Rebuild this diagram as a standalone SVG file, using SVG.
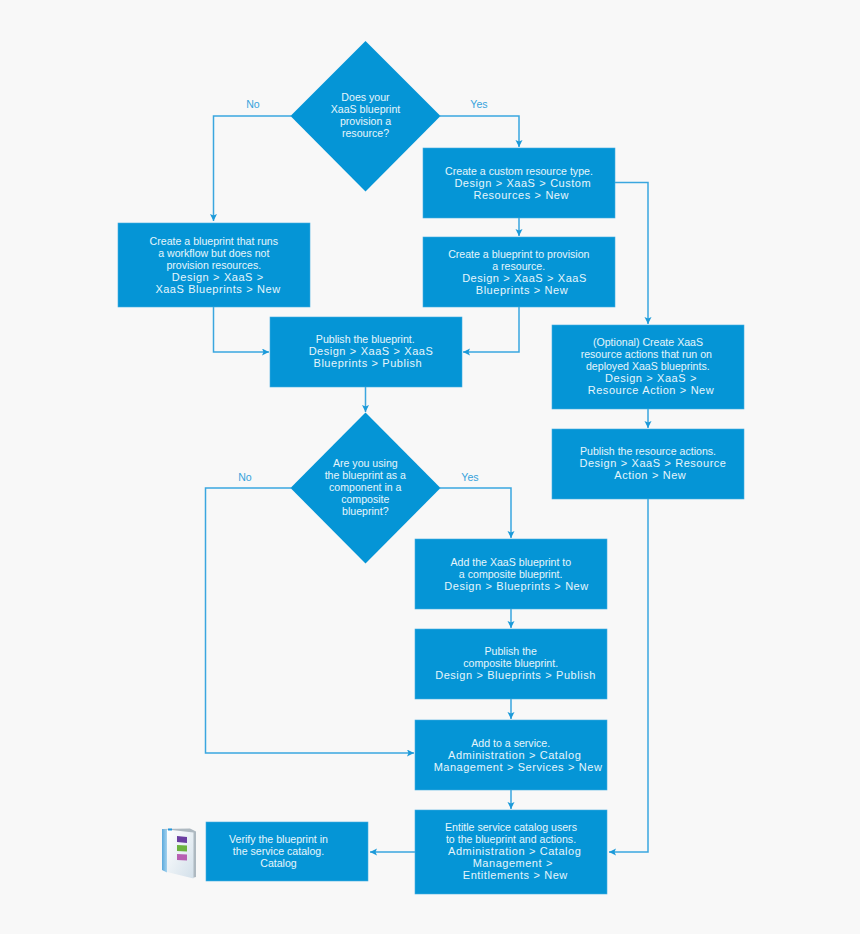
<svg xmlns="http://www.w3.org/2000/svg" width="860" height="934" viewBox="0 0 860 934">
<style>
.n{fill:#0595d6}
.b{fill:#0595d6;stroke:#45ade2;stroke-width:.6}
.t{font-family:"Liberation Sans",Arial,sans-serif;font-size:10.6px;fill:#e6f5fc;text-anchor:middle}
.p{letter-spacing:.52px;word-spacing:.3px;font-size:11px}
.l{font-family:"Liberation Sans",Arial,sans-serif;font-size:10.6px;fill:#36a3dc;text-anchor:middle}
.c{fill:none;stroke:#3aa6df;stroke-width:1.5;marker-end:url(#a)}
</style>
<defs>
<marker id="a" markerUnits="userSpaceOnUse" markerWidth="8" markerHeight="8" refX="7" refY="3.5" orient="auto"><path d="M0 0L7 3.5L0 7L1.500 3.500Z" fill="#1c9ad9"/></marker>
<linearGradient id="page" x1="0" y1="0" x2="1" y2="1"><stop offset="0" stop-color="#ffffff"/><stop offset="1" stop-color="#d3e0ea"/></linearGradient>
<linearGradient id="spine" x1="0" y1="0" x2="1" y2="0"><stop offset="0" stop-color="#5aa9dc"/><stop offset="1" stop-color="#a5d3ef"/></linearGradient>
</defs>
<rect width="860" height="934" fill="#f8f8f8"/>
<g id="connectors">
<path class="c" d="M291 116H213.500V221"/>
<path class="c" d="M440 116H519V147"/>
<path class="c" d="M519 218V236"/>
<path class="c" d="M615 182.500H648V324"/>
<path class="c" d="M213.500 307V352H269"/>
<path class="c" d="M519 307V352H463"/>
<path class="c" d="M365.500 387V412"/>
<path class="c" d="M648 409V428"/>
<path class="c" d="M291 488H205.500V753H414"/>
<path class="c" d="M440 488H511V538"/>
<path class="c" d="M511 609V628"/>
<path class="c" d="M511 699V719"/>
<path class="c" d="M511 790V809"/>
<path class="c" d="M648 499V852H609"/>
<path class="c" d="M415 852H370"/>
<text class="l" x="253" y="108">No</text>
<text class="l" x="479" y="108">Yes</text>
<text class="l" x="245" y="481">No</text>
<text class="l" x="470" y="481">Yes</text>
</g>
<g id="d1"><path class="n" d="M365.500 41L440.500 116L365.500 191.500L290.500 116Z"/>
<text class="t" x="365.500" y="101">Does your</text><text class="t" x="365.500" y="113">XaaS blueprint</text><text class="t" x="365.500" y="125">provision a</text><text class="t" x="365.500" y="137">resource?</text></g>
<g id="custom"><rect class="b" x="423" y="148" width="192" height="70"/>
<text class="t" x="519" y="175">Create a custom resource type.</text><text class="t p" x="522.800" y="187">Design &gt; XaaS &gt; Custom</text><text class="t p" x="521.200" y="199">Resources &gt; New</text></g>
<g id="noprov"><rect class="b" x="118" y="223" width="192" height="84"/>
<text class="t" x="213.800" y="245">Create a blueprint that runs</text><text class="t" x="213.800" y="257">a workflow but does not</text><text class="t" x="213.800" y="269">provision resources.</text><text class="t p" x="217.800" y="281">Design &gt; XaaS &gt;</text><text class="t p" x="218" y="293">XaaS Blueprints &gt; New</text></g>
<g id="prov"><rect class="b" x="423" y="237" width="192" height="70"/>
<text class="t" x="518.800" y="258">Create a blueprint to provision</text><text class="t" x="518.700" y="270">a resource.</text><text class="t p" x="524.500" y="282">Design &gt; XaaS &gt; XaaS</text><text class="t p" x="522" y="294">Blueprints &gt; New</text></g>
<g id="publish"><rect class="b" x="270" y="317" width="192" height="70"/>
<text class="t" x="365.300" y="343">Publish the blueprint.</text><text class="t p" x="371" y="355">Design &gt; XaaS &gt; XaaS</text><text class="t p" x="367.800" y="367">Blueprints &gt; Publish</text></g>
<g id="optional"><rect class="b" x="552" y="325" width="192" height="84"/>
<text class="t" x="648" y="346">(Optional) Create XaaS</text><text class="t" x="646.300" y="358">resource actions that run on</text><text class="t" x="647.800" y="370">deployed XaaS blueprints.</text><text class="t p" x="651" y="382">Design &gt; XaaS &gt;</text><text class="t p" x="651" y="394">Resource Action &gt; New</text></g>
<g id="pubres"><rect class="b" x="552" y="429" width="192" height="70"/>
<text class="t" x="648" y="455">Publish the resource actions.</text><text class="t p" x="653" y="467">Design &gt; XaaS &gt; Resource</text><text class="t p" x="650.300" y="479">Action &gt; New</text></g>
<g id="d2"><path class="n" d="M365.500 412.500L440.500 488L365.500 563.500L290.500 488Z"/>
<text class="t" x="365.300" y="467">Are you using</text><text class="t" x="365.300" y="479">the blueprint as a</text><text class="t" x="365.300" y="491">component in a</text><text class="t" x="365.300" y="503">composite</text><text class="t" x="365.300" y="515">blueprint?</text></g>
<g id="addc"><rect class="b" x="415" y="539" width="192" height="70"/>
<text class="t" x="510.800" y="566">Add the XaaS blueprint to</text><text class="t" x="510.700" y="578">a composite blueprint.</text><text class="t p" x="516.500" y="590">Design &gt; Blueprints &gt; New</text></g>
<g id="pubc"><rect class="b" x="415" y="629" width="192" height="70"/>
<text class="t" x="510.700" y="655">Publish the</text><text class="t" x="510.700" y="667">composite blueprint.</text><text class="t p" x="515.500" y="679">Design &gt; Blueprints &gt; Publish</text></g>
<g id="svc"><rect class="b" x="415" y="720" width="192" height="70"/>
<text class="t" x="510.700" y="747">Add to a service.</text><text class="t p" x="514.700" y="759">Administration &gt; Catalog</text><text class="t p" x="518" y="771">Management &gt; Services &gt; New</text></g>
<g id="ent"><rect class="b" x="415" y="810" width="192" height="84"/>
<text class="t" x="511" y="831">Entitle service catalog users</text><text class="t" x="511" y="843">to the blueprint and actions.</text><text class="t p" x="514.700" y="855">Administration &gt; Catalog</text><text class="t p" x="512.800" y="867">Management &gt;</text><text class="t p" x="515.300" y="879">Entitlements &gt; New</text></g>
<g id="verify"><rect class="b" x="206" y="822" width="162" height="59"/>
<text class="t" x="278.500" y="843">Verify the blueprint in</text><text class="t" x="278.500" y="855">the service catalog.</text><text class="t" x="278.500" y="867">Catalog</text></g>
<g id="book">
<path d="M162 829L190 828.500L196 831.500V877L192 878Z" fill="#aeb9c1"/>
<path d="M167 829.500L193.500 832.500V878.500L167 872Z" fill="url(#page)"/>
<path d="M162 829L167 829.500V872.500L162 870Z" fill="url(#spine)"/>
<path d="M168 828.500H172V830.500H168Z" fill="#1e96dc"/>
<path d="M177 836L187 837V843L177 842Z" fill="#6a3ea1"/>
<path d="M177 845L187 845.500V851.500L177 851Z" fill="#6cb33f"/>
<path d="M177 854L187 854.500V860.500L177 860Z" fill="#b75fb3"/>
</g>
</svg>
